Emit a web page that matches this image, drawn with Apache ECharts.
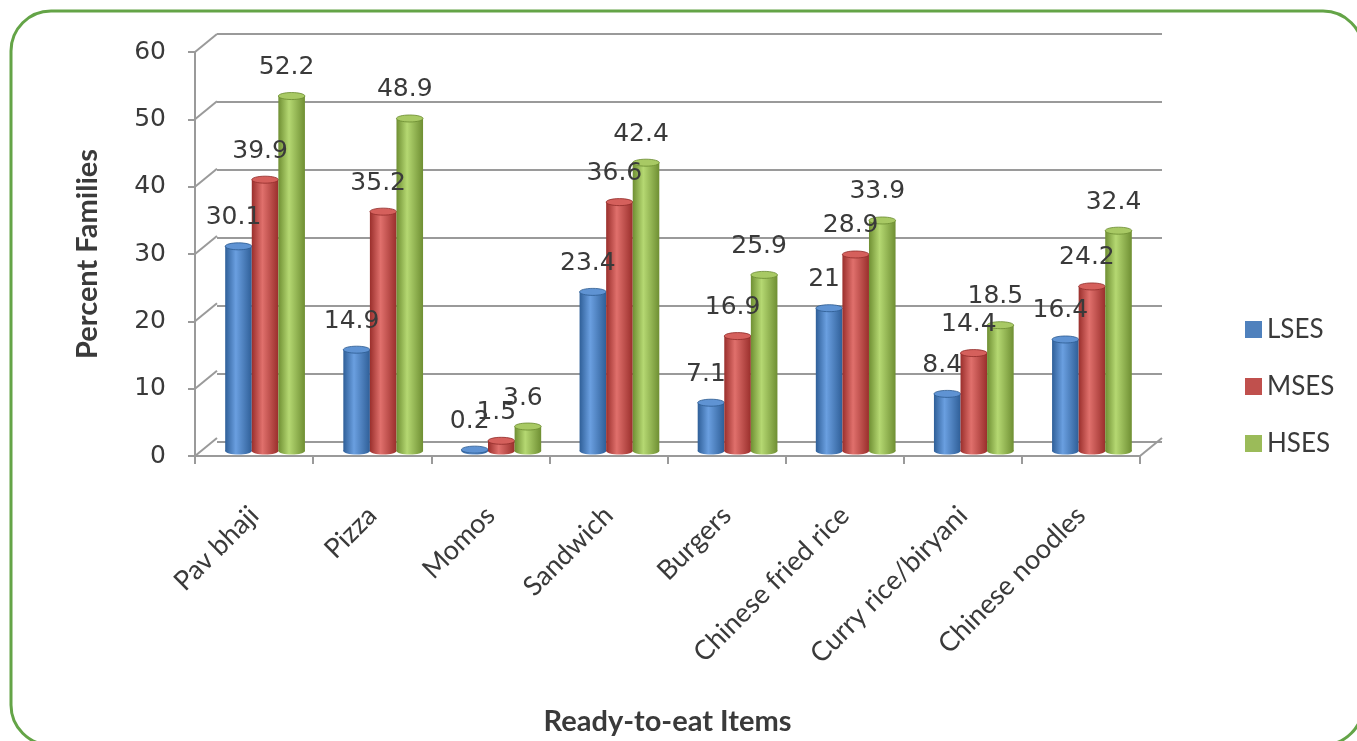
<!DOCTYPE html>
<html>
<head>
<meta charset="utf-8">
<script src="https://cdn.jsdelivr.net/npm/echarts@6/dist/echarts.min.js"></script>
<style>
  html, body { margin: 0; padding: 0; background: #ffffff; }
  #chart { width: 1357px; height: 741px; }
</style>
</head>
<body>
<div id="chart"></div>
<script>
// Ready-to-eat items eaten by families, by socio-economic status (percent)
const categories = ['Pav bhaji', 'Pizza', 'Momos', 'Sandwich', 'Burgers',
  'Chinese fried rice', 'Curry rice/biryani', 'Chinese noodles'];
const seriesNames = ['LSES', 'MSES', 'HSES'];
const lses = [30.1, 14.9, 0.2, 23.4, 7.1, 21, 8.4, 16.4];
const mses = [39.9, 35.2, 1.5, 36.6, 16.9, 28.9, 14.4, 24.2];
const hses = [52.2, 48.9, 3.6, 42.4, 25.9, 33.9, 18.5, 32.4];
const yTicks = [0, 10, 20, 30, 40, 50, 60];

// Pseudo-3D frame: front plane, back wall, and the bars half-way between
const FRONT = { left: 195, right: 217, top: 52, bottom: 281 };
const DEPTH_X = 22, DEPTH_Y = 18;
const BACK = { left: FRONT.left + DEPTH_X, right: FRONT.right - DEPTH_X,
               top: FRONT.top - DEPTH_Y, bottom: FRONT.bottom + DEPTH_Y };
const MID = { left: FRONT.left + DEPTH_X / 2, right: FRONT.right - DEPTH_X / 2,
              top: FRONT.top - DEPTH_Y / 2, bottom: FRONT.bottom + DEPTH_Y / 2 };

const GRID_LINE = '#9a9a9a';
const TEXT = '#3a3a3a';
const NUM_FONT = 'DejaVu Sans';
const CAT_FONT = 'Lato';

const palettes = [
  { legend: '#4F81BD', dark: '#2f5f98', light: '#6a9fe0', cap: '#5f93d3', edge: '#2c5a8f' },
  { legend: '#C0504D', dark: '#9a2f2c', light: '#e0706c', cap: '#d5605c', edge: '#8f2c2a' },
  { legend: '#9BBB59', dark: '#6f8f33', light: '#b5d872', cap: '#a8c964', edge: '#6a8a30' }
];

function cylinder(slot, pal) {
  return function (params, api) {
    const idx = api.value(0);
    const val = api.value(1);
    const base = api.coord([idx, 0]);
    const top = api.coord([idx, val]);
    const band = api.size([1, 0])[0];
    const w = band * 0.225;
    const cx = base[0] + (slot - 1) * w;
    const ry = 3.5;
    const grad = new echarts.graphic.LinearGradient(0, 0, 1, 0, [
      { offset: 0, color: pal.dark },
      { offset: 0.4, color: pal.light },
      { offset: 1, color: pal.dark }
    ]);
    return {
      type: 'group',
      children: [
        { type: 'ellipse', shape: { cx: cx, cy: base[1], rx: w / 2, ry: ry },
          style: { fill: grad } },
        { type: 'rect', shape: { x: cx - w / 2, y: top[1], width: w, height: base[1] - top[1] },
          style: { fill: grad } },
        { type: 'ellipse', shape: { cx: cx, cy: top[1], rx: w / 2, ry: ry },
          style: { fill: pal.cap, stroke: pal.edge, lineWidth: 0.8 } },
        { type: 'text', z2: 100,
          style: { text: String(val), x: cx - 5, y: top[1] - 16,
                   align: 'center', verticalAlign: 'bottom',
                   fontFamily: NUM_FONT, fontSize: 25, fill: TEXT } }
      ]
    };
  };
}

// Left-wall and floor diagonals joining the front plane to the back wall
function wallEdges(params, api) {
  const v = api.value(1);
  const y = api.coord([0, v])[1];
  const cs = params.coordSys;
  const lines = [{
    type: 'line',
    shape: { x1: cs.x, y1: y, x2: cs.x + DEPTH_X, y2: y - DEPTH_Y },
    style: { stroke: GRID_LINE, lineWidth: 2 }
  }];
  if (v === 0) {
    lines.push({
      type: 'line',
      shape: { x1: cs.x + cs.width, y1: y, x2: cs.x + cs.width + DEPTH_X, y2: y - DEPTH_Y },
      style: { stroke: GRID_LINE, lineWidth: 2 }
    });
  }
  return { type: 'group', children: lines };
}

const chart = echarts.init(document.getElementById('chart'), null, { renderer: 'canvas' });

const dataOf = arr => arr.map((v, i) => [i, v]);
const valueData = [lses, mses, hses];

chart.setOption({
  animation: false,
  backgroundColor: '#ffffff',
  graphic: [{
    type: 'rect', silent: true, z: -10,
    shape: { x: 11, y: 11, width: 1352, height: 734, r: 40 },
    style: { fill: 'none', stroke: '#64a447', lineWidth: 3 }
  }],
  legend: {
    data: seriesNames,
    orient: 'vertical',
    left: 1240, top: 311,
    icon: 'rect', itemWidth: 17, itemHeight: 17, itemGap: 30, itemTextGap: 6,
    textStyle: { fontFamily: CAT_FONT, fontSize: 26, lineHeight: 27, color: TEXT }
  },
  grid: [
    Object.assign({ containLabel: false }, FRONT),
    Object.assign({ containLabel: false }, BACK),
    Object.assign({ containLabel: false }, MID)
  ],
  xAxis: [
    {
      gridIndex: 0, type: 'category', data: categories,
      name: 'Ready-to-eat Items', nameLocation: 'middle', nameGap: 251,
      nameTextStyle: { fontFamily: CAT_FONT, fontSize: 29, fontWeight: 'bold', color: TEXT },
      axisLine: { lineStyle: { color: GRID_LINE, width: 2 } },
      axisTick: { show: true, length: 8, lineStyle: { color: GRID_LINE, width: 2 } },
      axisLabel: { rotate: 45, margin: 55, fontFamily: CAT_FONT, fontSize: 27, color: TEXT, interval: 0 },
      splitLine: { show: false }
    },
    { gridIndex: 1, type: 'category', data: categories, show: false },
    { gridIndex: 2, type: 'category', data: categories, show: false }
  ],
  yAxis: [
    {
      gridIndex: 0, type: 'value', min: 0, max: 60, interval: 10,
      name: 'Percent Families', nameLocation: 'middle', nameGap: 93, nameRotate: 90,
      nameTextStyle: { fontFamily: CAT_FONT, fontSize: 29, fontWeight: 'bold', color: TEXT },
      axisLine: { show: true, lineStyle: { color: GRID_LINE, width: 2 } },
      axisTick: { show: true, length: 7, lineStyle: { color: GRID_LINE, width: 2 } },
      axisLabel: { margin: 29, fontFamily: NUM_FONT, fontSize: 25, color: TEXT },
      splitLine: { show: false }
    },
    {
      gridIndex: 1, type: 'value', min: 0, max: 60, interval: 10,
      axisLine: { show: false }, axisTick: { show: false }, axisLabel: { show: false },
      splitLine: { show: true, lineStyle: { color: GRID_LINE, width: 2 } }
    },
    {
      gridIndex: 2, type: 'value', min: 0, max: 60, interval: 10, show: false,
      splitLine: { show: false }
    }
  ],
  series: [
    {
      type: 'custom', name: 'frame', xAxisIndex: 0, yAxisIndex: 0,
      renderItem: wallEdges, silent: true, z: 1,
      data: yTicks.map(v => [0, v])
    }
  ].concat(seriesNames.map((name, s) => ({
    type: 'custom', name: name, xAxisIndex: 2, yAxisIndex: 2,
    itemStyle: { color: palettes[s].legend },
    renderItem: cylinder(s, palettes[s]),
    encode: { x: 0, y: 1 },
    data: dataOf(valueData[s]),
    z: 3
  })))
});
</script>
</body>
</html>
